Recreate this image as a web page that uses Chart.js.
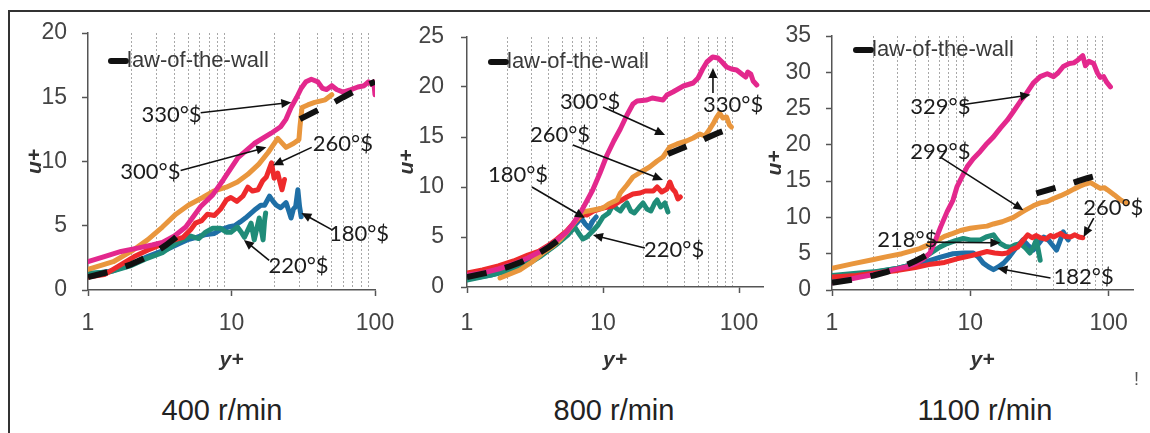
<!DOCTYPE html>
<html><head><meta charset="utf-8">
<script src="https://cdn.jsdelivr.net/npm/chart.js@4.4.1/dist/chart.umd.min.js"></script>
<style>
html,body{margin:0;padding:0;background:#fff;}
#wrap{position:relative;width:1150px;height:433px;overflow:hidden;background:#fff;font-family:"Liberation Sans",Arial,sans-serif;}
#frame{position:absolute;left:8px;top:10px;width:1160px;height:440px;border-top:2px solid #333;border-left:2px solid #333;}
canvas{position:absolute;top:0;}
.cap{position:absolute;top:393px;font-size:29px;line-height:34px;color:#222;transform:translateX(-50%);white-space:nowrap;}
.bang{position:absolute;left:1134px;top:369px;font-size:18px;color:#555;}
</style></head><body>
<div id="wrap">
  <div id="frame"></div>
  <canvas id="c1" width="400" height="380" style="left:10px"></canvas>
  <canvas id="c2" width="385" height="380" style="left:390px"></canvas>
  <canvas id="c3" width="395" height="380" style="left:755px"></canvas>
  <div class="cap" style="left:222px">400 r/min</div>
  <div class="cap" style="left:614px">800 r/min</div>
  <div class="cap" style="left:985px">1100 r/min</div>
  <div class="bang">!</div>
</div>
<script>
// ---------------- DATA ----------------
const xTickLabels = ['1', '10', '100'];
const lawLabel = 'law-of-the-wall';
const lawOfWall = [[1,1],[1.5,1.5],[2,2],[2.5,2.5],[3,3],[3.5,3.5],[4,4],[4.5,4.5],[5,5],[10,null],
  [30,13.3],[40,14.0],[50,14.5],[60,15.0],[70,15.4],[80,15.7],[90,16.0],[100,16.2]];

// 400 r/min
const r400_s330 = [[1,2.2],[1.3,2.6],[1.7,3.0],[2.3,3.3],[2.8,3.5],[3.3,3.7],[4,4.2],[4.8,4.9],[6.1,6.5],[7.4,7.4],[8.8,8.6],[11.1,10.3],[14.4,11.4],[18.9,12.2],[22,12.7],[24,13.3],[26,14.2],[28.5,15.0],[30.6,15.7],[33,16.2],[36,16.4],[40,16.2],[43,15.7],[46,15.6],[50,15.9],[54,15.6],[60,15.4],[68,15.6],[76,15.8],[84,15.9],[90,16.2],[95,16.0],[98,16.2],[100,15.2]];
const r400_s300 = [[1,1.6],[1.5,2.2],[2,3.0],[2.6,3.9],[3.3,4.9],[4.1,5.9],[5,6.6],[6.3,7.2],[7.5,7.7],[9.2,8.0],[11,8.4],[13,9.0],[15.5,9.8],[18,10.7],[21,11.8],[24,11.1],[27,11.4],[29.5,11.7],[30,12.7],[31,14.2],[34,14.4],[38,14.6],[45,14.8],[50,15.2]];
const r400_s260 = [[1,1.0],[1.3,1.2],[1.6,1.8],[2.1,2.6],[2.6,3.1],[3.2,3.5],[4,3.9],[4.6,4.1],[5.2,4.7],[5.6,5.2],[6.2,5.4],[6.8,5.9],[7.6,5.8],[8.4,6.3],[9.2,7.0],[9.9,7.2],[10.9,6.9],[12,7.3],[13,8.0],[14,7.7],[15.3,7.8],[16.5,8.5],[17.5,8.8],[19,9.9],[19.8,8.7],[21,9.1],[22,8.2],[22.5,7.8],[23.4,8.6]];
const r400_s220 = [[1,1.3],[1.4,1.4],[2,1.9],[2.5,2.4],[3.3,2.9],[4.3,3.8],[5.2,4.2],[5.9,4.0],[6.6,4.5],[7.4,4.8],[8.4,4.8],[9.2,4.5],[9.9,4.5],[11,4.9],[11.7,4.5],[12.3,4.1],[13.7,5.2],[14.4,3.9],[15.6,5.6],[16.6,3.9],[17,5.4],[17.3,6.0]];
const r400_s180 = [[1,1.2],[1.5,1.5],[2,2.0],[2.6,2.6],[3.2,3.0],[3.6,3.2],[4.3,3.6],[4.9,3.9],[5.7,4.1],[6.5,4.3],[7.6,4.4],[8.4,4.7],[9.5,4.9],[10.5,5.0],[11.5,5.3],[12.5,5.6],[14.4,6.2],[16,6.6],[17,6.6],[18.4,7.3],[19.5,6.9],[20.5,6.6],[22,6.4],[24,6.8],[25,6.2],[26,5.6],[27,6.3],[28,6.5],[29,7.8],[29.8,6.5],[30.6,5.7]];

// 800 r/min
const r800_s330 = [[1,1.2],[1.3,1.4],[1.7,1.8],[2.2,2.3],[2.8,2.9],[3.4,3.5],[3.9,4.0],[4.6,4.7],[5.4,5.5],[6,6.3],[6.8,7.4],[7.6,8.6],[8.4,9.7],[9.5,11.4],[10.7,13.2],[12,14.6],[13.4,15.8],[15,17.2],[16.6,18.3],[17.8,18.6],[21,18.7],[23,18.9],[27.6,18.7],[29.5,19.2],[32.6,19.5],[39,20.1],[46,20.4],[50,20.9],[54,21.8],[58,22.5],[64,23.0],[70,22.9],[75,22.5],[81,22.0],[88,21.8],[96,21.7],[107,21.2],[112,21.0],[116,21.5],[122,21.3],[127,20.6],[135,20.2]];
const r800_s300 = [[1.75,0.9],[2.45,1.7],[3.0,2.5],[3.6,3.4],[4.3,4.1],[4.8,4.7],[5.5,5.6],[6.3,6.6],[7.1,7.5],[8.5,7.7],[10,7.9],[11,8.3],[12.7,8.7],[13.4,9.4],[15,10.2],[16.6,11.0],[19,11.5],[22,12.0],[25,12.6],[27.6,13.0],[31,14.0],[35,14.3],[41,14.6],[46,14.9],[51.5,15.3],[56,15.1],[61,15.8],[65,16.4],[68,16.9],[72,17.4],[76,16.9],[81,17.0],[85,16.2],[88,16.0]];
const r800_s260 = [[1,1.4],[1.3,1.7],[1.7,2.1],[2.2,2.6],[2.8,3.2],[3.4,3.6],[3.9,4.1],[4.6,4.8],[5.4,5.6],[6.2,6.5],[7.1,7.3],[7.6,7.2],[8.5,7.6],[10,7.9],[11.8,8.1],[13.4,8.6],[15,9.0],[16.6,9.3],[18.7,9.4],[20.5,9.6],[23.4,9.6],[25,10.0],[27,9.5],[29.5,9.8],[31,10.5],[32.5,9.8],[34,9.5],[35.5,8.8],[37,9.0]];
const r800_s220 = [[1,0.7],[1.5,1.2],[2,1.6],[2.8,2.3],[3.5,3.1],[4.5,4.2],[5.5,5.2],[6.2,6.0],[6.6,5.4],[7.1,4.8],[7.6,5.0],[8.4,5.6],[9.2,6.2],[10,7.0],[11,7.4],[11.8,8.2],[12.7,7.8],[13.4,7.6],[14.2,8.1],[15,8.4],[16,7.6],[17,7.4],[18.5,8.0],[19.7,8.4],[21,7.8],[22.5,7.6],[24,8.4],[25,8.7],[26.5,8.0],[28.5,8.4],[30,7.5]];
const r800_s180 = [[1,0.8],[1.5,1.2],[2,1.7],[2.8,2.5],[3.5,3.3],[4.5,4.3],[5.5,5.3],[6.3,6.3],[6.9,6.9],[7.4,6.3],[7.9,5.9],[8.4,6.6],[8.9,7.0]];

// 1100 r/min
const r1100_s329 = [[1,1.0],[1.6,1.8],[2.1,2.2],[2.8,2.8],[3.5,3.2],[4.1,3.7],[4.6,4.3],[5.1,5.1],[5.5,6.5],[6.1,8.7],[6.8,10.8],[7.5,12.4],[8.0,14.2],[8.7,15.6],[9.5,17.0],[10.5,18.1],[11.8,19.1],[13.2,20.2],[14.7,21.1],[16.5,22.3],[18.5,23.4],[20.5,24.6],[23,26.0],[25,26.9],[28.5,28.5],[32,29.4],[36,29.8],[40,29.4],[43,29.9],[47,30.8],[52,31.2],[56,31.3],[60,31.7],[65,32.3],[68,30.9],[72,31.5],[78,31.2],[83,29.9],[87,29.3],[92,29.4],[97,28.6],[103,28.0]];
const r1100_s299 = [[1,3.0],[1.4,3.6],[2,4.2],[2.5,4.6],[3.2,5.0],[4.3,5.7],[5.5,6.6],[6.5,7.4],[7.5,7.8],[8.5,8.2],[10,8.5],[11.8,8.7],[13.2,8.8],[14.7,9.1],[17,9.4],[20.5,10.0],[23,10.6],[25,11.0],[28.5,11.6],[32,12.0],[36,12.2],[40,12.6],[45,13.0],[50,13.4],[56,13.9],[62,14.3],[68,14.6],[74,14.8],[80,14.4],[87,14.0],[93,14.1],[98,13.8],[103,13.5],[110,13.1],[122,12.4],[130,12.1],[137,12.0]];
const r1100_s260 = [[1,1.8],[1.5,2.0],[2,2.3],[3,2.7],[4,3.1],[5,3.5],[6.5,3.8],[8,4.3],[10,4.7],[11.5,5.0],[13.2,5.3],[15,5.1],[17,5.0],[18.5,5.1],[20,5.6],[22,5.9],[24,6.8],[26,7.6],[28,7.2],[30,7.5],[32,7.2],[35,7.0],[38,7.5],[40,7.3],[43,7.6],[45,7.8],[48,7.4],[53,7.3],[57,7.6],[61,7.3],[65,7.2]];
const r1100_s218 = [[1,2.0],[1.5,2.3],[2,2.5],[3,3.0],[4,3.6],[5.1,5.0],[6,5.9],[6.8,6.4],[7.8,6.8],[8.9,7.1],[10,6.9],[11.8,6.9],[13,7.3],[14.7,7.6],[15.5,7.0],[16.5,6.4],[18,6.0],[19.5,5.9],[21,6.2],[23,6.4],[25,5.8],[27,5.1],[28.5,5.9],[30,6.9],[31,5.5],[32,4.1]];
const r1100_s182 = [[1,1.6],[1.5,2.0],[2,2.4],[3,3.0],[4,3.6],[5,4.0],[6,4.5],[7.5,5.0],[9,5.1],[10.5,5.1],[11.5,4.5],[12.4,3.7],[13.5,3.2],[14.7,2.8],[16,3.2],[17.4,3.7],[19,4.5],[21,5.6],[24,6.9],[26,6.2],[28.5,5.5],[31,6.3],[34,7.3],[37,6.8],[40,6.0],[42,5.5],[44,6.5],[47,8.0],[49,7.4],[51,6.9]];

// annotation labels with arrows, in data coordinates
const notes400 = [
  {text:'330°$', at:[3.82,13.6], from:[6.1,13.8], to:[26.1,14.6]},
  {text:'300°$', at:[2.72,9.2], from:[4.42,9.3], to:[17.5,11.1]},
  {text:'260°$', at:[59.7,11.4], from:[36.2,11.1], to:[19.5,9.7]},
  {text:'180°$', at:[77.4,4.4], from:[49.9,4.7], to:[30.7,6.0]},
  {text:'220°$', at:[29.3,1.9], from:[18.3,2.3], to:[12.2,3.9]}
];
const notes800 = [
  {text:'300°$', at:[8.03,18.5], from:[10,18.0], to:[28.6,15.2]},
  {text:'260°$', at:[4.83,15.2], from:[6.0,14.2], to:[27.6,10.7]},
  {text:'180°$', at:[2.37,11.2], from:[3.0,10.0], to:[7.36,6.9]},
  {text:'220°$', at:[33.3,3.7], from:[20.3,3.9], to:[8.43,5.2]},
  {text:'330°$', at:[90.5,18.2], from:[64.3,19.4], to:[64.3,21.9]}
];
const notes1100 = [
  {text:'329°$', at:[6.07,25.2], from:[8.45,25.5], to:[27.2,26.9]},
  {text:'299°$', at:[6.07,19.0], from:[6.07,18.3], to:[24.2,11.0]},
  {text:'218°$', at:[3.5,6.9], from:[4.88,6.6], to:[16.5,6.5]},
  {text:'182°$', at:[65.9,1.8], from:[38,1.65], to:[15.7,3.0]},
  {text:'260°$', at:[108,11.3], from:[78,9.9], to:[65.9,7.3]}
];

// ---------------- STYLE / BUILD ----------------
const COL = {magenta:'#e3288d', orange:'#e9963d', red:'#ee2a2c', teal:'#1f8c78', blue:'#1f6fa6', law:'#111111'};
const FONT = "'Liberation Sans', Arial, sans-serif";
Chart.defaults.font.family = FONT;
Chart.defaults.color = '#444';

const pts = a => a.map(p => ({x:p[0], y:p[1]}));
function series(label, arr, color) {
  return {label, data: pts(arr), borderColor: color, backgroundColor: color, borderWidth: 5,
    pointRadius: 0, tension: 0, borderJoinStyle: 'round', borderCapStyle: 'round', fill: false};
}
function lawSeries() {
  return {label: lawLabel, data: pts(lawOfWall), borderColor: COL.law, backgroundColor: COL.law,
    borderWidth: 6, borderDash: [20, 19], borderCapStyle: 'butt', pointRadius: 0, tension: 0, fill: false, spanGaps: false};
}

const notesPlugin = {
  id: 'notes',
  afterDatasetsDraw(chart) {
    const notes = chart.options.plugins.notes.items || [];
    const {ctx, scales: {x, y}} = chart;
    ctx.save();
    ctx.font = "22px Lato, 'Open Sans', sans-serif";
    ctx.strokeStyle = '#111';
    ctx.textAlign = 'center';
    ctx.textBaseline = 'middle';
    notes.forEach(n => {
      const x1 = x.getPixelForValue(n.from[0]), y1 = y.getPixelForValue(n.from[1]);
      const x2 = x.getPixelForValue(n.to[0]), y2 = y.getPixelForValue(n.to[1]);
      const ang = Math.atan2(y2 - y1, x2 - x1);
      const L = 10, W = 4.5;
      ctx.lineWidth = 1.6;
      ctx.beginPath();
      ctx.moveTo(x1, y1);
      ctx.lineTo(x2 - Math.cos(ang) * (L - 2), y2 - Math.sin(ang) * (L - 2));
      ctx.stroke();
      ctx.beginPath();
      ctx.moveTo(x2, y2);
      ctx.lineTo(x2 - Math.cos(ang) * L - Math.sin(ang) * W, y2 - Math.sin(ang) * L + Math.cos(ang) * W);
      ctx.lineTo(x2 - Math.cos(ang) * L + Math.sin(ang) * W, y2 - Math.sin(ang) * L - Math.cos(ang) * W);
      ctx.closePath();
      ctx.fillStyle = '#111';
      ctx.fill();
      ctx.fillStyle = '#1c1c1c';
      ctx.fillText(n.text, x.getPixelForValue(n.at[0]), y.getPixelForValue(n.at[1]));
    });
    ctx.restore();
  }
};

const innerLegend = {
  id: 'innerLegend',
  afterDatasetsDraw(chart) {
    const o = chart.options.plugins.innerLegend;
    const ds = chart.data.datasets[0];
    const {ctx, chartArea} = chart;
    const x0 = chartArea.left + o.dx, yc = chartArea.top + o.dy;
    ctx.save();
    ctx.strokeStyle = ds.borderColor;
    ctx.lineWidth = 6;
    ctx.lineCap = 'round';
    ctx.beginPath();
    ctx.moveTo(x0 + 3, yc); ctx.lineTo(x0 + 18, yc);
    ctx.stroke();
    ctx.font = "22px " + FONT;
    ctx.fillStyle = '#3a3a3a';
    ctx.textAlign = 'left';
    ctx.textBaseline = 'middle';
    ctx.fillText(ds.label, x0 + 19, yc);
    ctx.restore();
  }
};

function isMajor(v) { const l = Math.log10(v); return Math.abs(l - Math.round(l)) < 1e-9; }

function makeChart(id, cfg) {
  const datasets = [lawSeries()].concat(cfg.series.map(s => series(s[0], s[1], s[2])));
  return new Chart(document.getElementById(id), {
    type: 'line',
    data: {datasets},
    plugins: [notesPlugin, innerLegend],
    options: {
      responsive: false, animation: false, devicePixelRatio: 1,
      layout: {padding: {left: 0, top: cfg.top, right: cfg.right, bottom: 0}},
      plugins: {legend: {display: false}, tooltip: {enabled: false},
        notes: {items: cfg.notes}, innerLegend: {dx: cfg.legDx, dy: cfg.legDy}},
      scales: {
        x: {
          type: 'logarithmic', min: 1, max: cfg.xmax,
          afterBuildTicks: s => {
            const t = [];
            for (let d = 1; d <= s.max; d *= 10)
              for (let k = 1; k <= 9; k++) { const v = d * k; if (v <= s.max + 1e-9) t.push({value: v, major: k === 1}); }
            s.ticks = t;
          },
          afterFit: s => { s.height = cfg.xh; s.paddingLeft = 0; s.paddingRight = 0; },
          ticks: {autoSkip: false, maxRotation: 0, padding: cfg.xtp, color: '#444',
            font: {size: 23}, callback: v => xTickLabels.includes(String(v)) ? String(v) : ''},
          grid: {drawOnChartArea: true, lineWidth: 1, tickLength: 6, tickWidth: 1.5,
            color: c => (c.tick && isMajor(c.tick.value)) ? 'rgba(0,0,0,0)' : '#a8a8a8',
            tickColor: c => (c.tick && isMajor(c.tick.value)) ? '#555' : 'rgba(0,0,0,0)'},
          border: {display: true, color: '#555', width: 1.5, dash: [2, 2]},
          title: {display: true, text: 'y+', color: '#333', padding: {top: 0, bottom: 7},
            font: {size: 21, weight: 'bold', style: 'italic'}}
        },
        y: {
          type: 'linear', min: 0, max: cfg.ymax,
          afterFit: s => { s.width = cfg.yw; },
          ticks: {stepSize: 5, padding: cfg.ytp, color: '#444', font: {size: 23}},
          grid: {drawOnChartArea: false, tickLength: 6, tickWidth: 1.5, tickColor: '#555'},
          border: {display: true, color: '#555', width: 1.5},
          title: {display: true, text: 'u+', color: '#333', padding: {top: cfg.ytitlePad, bottom: 0},
            font: {size: 21, weight: 'bold', style: 'italic'}}
        }
      }
    }
  });
}

makeChart('c1', {
  series: [['330°$', r400_s330, COL.magenta], ['300°$', r400_s300, COL.orange], ['260°$', r400_s260, COL.red],
           ['220°$', r400_s220, COL.teal], ['180°$', r400_s180, COL.blue]],
  notes: notes400, xmax: 100, ymax: 20, top: 33, right: 35, yw: 78, xh: 90, xtp: 14, ytp: 15, ytitlePad: 12.5,
  legDx: 20, legDy: 28
});
makeChart('c2', {
  series: [['330°$', r800_s330, COL.magenta], ['300°$', r800_s300, COL.orange], ['260°$', r800_s260, COL.red],
           ['220°$', r800_s220, COL.teal], ['180°$', r800_s180, COL.blue]],
  notes: notes800, xmax: 150, ymax: 25, top: 37, right: 12, yw: 77, xh: 93, xtp: 17, ytp: 17, ytitlePad: 4.5,
  legDx: 21, legDy: 25
});
makeChart('c3', {
  series: [['329°$', r1100_s329, COL.magenta], ['299°$', r1100_s299, COL.orange], ['260°$', r1100_s260, COL.red],
           ['218°$', r1100_s218, COL.teal], ['182°$', r1100_s182, COL.blue]],
  notes: notes1100, xmax: 150, ymax: 35, top: 36, right: 17, yw: 77, xh: 90, xtp: 14, ytp: 15, ytitlePad: 7.5,
  legDx: 21, legDy: 14
});
</script>
</body></html>
